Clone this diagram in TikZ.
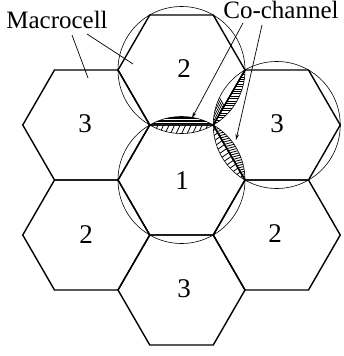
\documentclass[tikz,border=0pt]{standalone}
\usepackage{fontspec}
\setmainfont{Liberation Serif}
\usetikzlibrary{arrows.meta}
\newcommand\hexcell[1]{\draw[hexline,shift={#1}] (-63.5,0) -- (-31.75,-55) -- (31.75,-55) -- (63.5,0) -- (31.75,55) -- (-31.75,55) -- cycle;}
\newcommand\hexclip[1]{\clip[shift={#1}] (-63.5,0) -- (-31.75,-55) -- (31.75,-55) -- (63.5,0) -- (31.75,55) -- (-31.75,55) -- cycle;}
\newcommand\hatchlines[4]{% origin, angle, spacing, count
  \begin{scope}[shift={#1},rotate=#2]
    \foreach \i in {-#4,...,#4} \draw[hatch] (-80,{\i*#3}) -- (80,{\i*#3});
  \end{scope}}
\begin{document}
\begin{tikzpicture}[x=1pt,y=-1pt,
  hexline/.style={line width=1.4pt, line join=miter},
  circline/.style={line width=0.6pt},
  hatch/.style={line width=0.8pt},
  lbl/.style={font=\fontsize{25}{29}\selectfont, inner sep=0pt},
  num/.style={font=\fontsize{27}{31}\selectfont, inner sep=0pt},
  leader/.style={line width=0.7pt},
  arr/.style={leader, -{Stealth[length=6pt,width=3.5pt]}}]
\useasboundingbox (0,0) rectangle (343,356);
% centres
\coordinate (c1) at (181.5,180);
\coordinate (c2t) at (181.5,70);
\coordinate (c3r) at (276.75,125);
\coordinate (c3l) at (86.25,125);
\coordinate (c2l) at (86.25,235);
\coordinate (c2r) at (276.75,235);
\coordinate (c3b) at (181.5,290);
\coordinate (vB) at (213.25,125);
% hatching: top lens
\begin{scope}\hexclip{(c2t)}\clip (c1) circle[radius=63.5];
  \hatchlines{(vB)}{0}{1.6}{10}\end{scope}
\begin{scope}\hexclip{(c1)}\clip (c2t) circle[radius=63.5];
  \hatchlines{(vB)}{65}{5}{12}\end{scope}
% upper-right lens
\begin{scope}\hexclip{(c2t)}\clip (c3r) circle[radius=63.5];
  \hatchlines{(vB)}{-60}{1.9}{10}\end{scope}
\begin{scope}\hexclip{(c3r)}\clip (c2t) circle[radius=63.5];
  \hatchlines{(vB)}{0}{2.4}{40}\end{scope}
% lower-right lens
\begin{scope}\hexclip{(c3r)}\clip (c1) circle[radius=63.5];
  \hatchlines{(vB)}{15}{2.4}{40}\end{scope}
\begin{scope}\hexclip{(c1)}\clip (c3r) circle[radius=63.5];
  \hatchlines{(vB)}{35}{4.5}{20}\end{scope}
% circles
\draw[circline] (c2t) circle[radius=63.5];
\draw[circline] (c1) circle[radius=63.5];
\draw[circline] (c3r) circle[radius=63.5];
% hexagons
\hexcell{(c1)}\hexcell{(c2t)}\hexcell{(c3r)}\hexcell{(c3l)}
\hexcell{(c2l)}\hexcell{(c2r)}\hexcell{(c3b)}
% cell numbers
\node[num] (n1) at (182,181) {1};
\node[num] (n2t) at (184,69) {2};
\node[num] (n3r) at (277,124) {3};
\node[num] (n3l) at (85,124) {3};
\node[num] (n2l) at (86,235) {2};
\node[num] (n2r) at (275,234) {2};
\node[num] (n3b) at (184,289) {3};
% labels
\node[lbl,anchor=base] (macro) at (57,28.3) {Macrocell};
\node[lbl,anchor=base] (co) at (281,18.5) {Co-channel};
\coordinate (m1s) at (72,35);
\coordinate (m1e) at (88,78);
\coordinate (m2s) at (87,34);
\coordinate (m2e) at (133,64);
\coordinate (c1s) at (243,23);
\coordinate (c1e) at (192,118);
\coordinate (c2s) at (262,25);
\coordinate (c2e) at (236,140);
\draw[leader] (m1s) -- (m1e);
\draw[leader] (m2s) -- (m2e);
\draw[arr] (c1s) -- (c1e);
\draw[arr] (c2s) -- (c2e);
\end{tikzpicture}
\end{document}
